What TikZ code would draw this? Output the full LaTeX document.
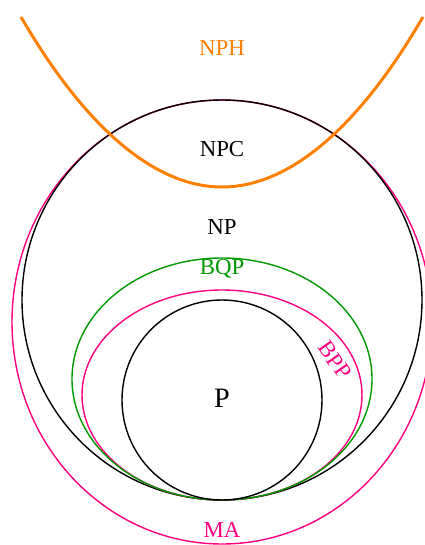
\documentclass[tikz,border=0pt]{standalone}
\usepackage{fontspec}
\setmainfont{Liberation Serif}
\usepackage{tikz}
\usepackage{xcolor}
\usetikzlibrary{positioning}
\definecolor{colHard}{RGB}{255,128,0}
\definecolor{colQuant}{RGB}{0,153,0}
\definecolor{colRand}{RGB}{255,0,128}

\begin{document}
\begin{tikzpicture}[
  x=0.02cm, y=-0.02cm,
  cls/.style={line width=0.8pt},
  lbl/.style={font=\fontsize{13}{15}\selectfont, inner sep=0pt},
]
\useasboundingbox (0,0) rectangle (425,545);

% classes
\draw[cls, colRand] (222,322) ellipse [x radius=210, y radius=222];
\draw[cls] (222,300) circle [radius=200];
\draw[cls, colRand] (222,395) ellipse [x radius=140, y radius=105];
\draw[cls, colQuant] (222,379) ellipse [x radius=150, y radius=121];
\draw[cls] (222,400) circle [radius=100];
\draw[line width=1.7pt, colHard] (21,17) parabola bend (222,187) (423,17);

% labels
\node[lbl, colHard] (nph) at (222,48) {NPH};
\node[lbl] (npc) at (222,149) {NPC};
\node[lbl] (np) at (222,227) {NP};
\node[lbl, colQuant] (bqp) at (222,269) {BQP};
\node[lbl, colRand, rotate=-55] (bpp) at (335,360) {BPP};
\node[lbl, font=\fontsize{16}{19}\selectfont] (p) at (222,398) {P};
\node[lbl, colRand] (ma) at (222,530) {MA};
\end{tikzpicture}
\end{document}
